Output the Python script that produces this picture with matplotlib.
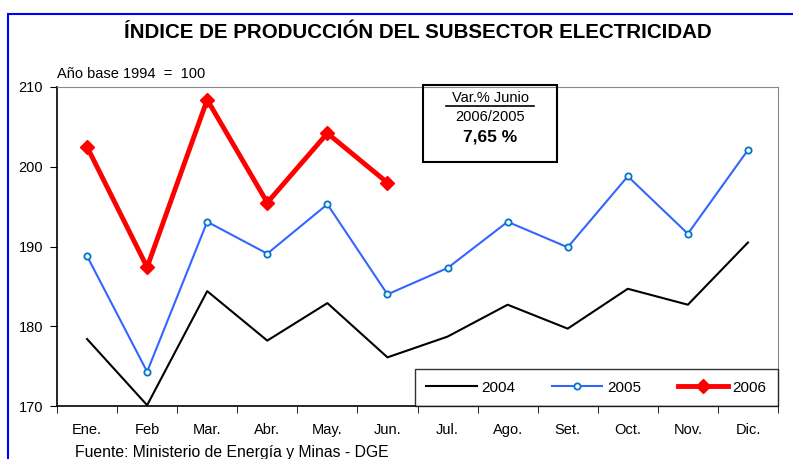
import matplotlib.pyplot as plt
from matplotlib.patches import Rectangle
import numpy as np

plt.rcParams['font.family'] = ['Liberation Sans', 'DejaVu Sans']

meses = ["Ene.", "Feb", "Mar.", "Abr.", "May.", "Jun.", "Jul.", "Ago.", "Set.", "Oct.", "Nov.", "Dic."]
y2004 = [178.4, 170.1, 184.4, 178.2, 182.9, 176.1, 178.7, 182.7, 179.7, 184.7, 182.7, 190.5]
y2005 = [188.8, 174.3, 193.1, 189.1, 195.3, 184.0, 187.3, 193.1, 189.9, 198.8, 191.6, 202.1]
y2006 = [202.5, 187.4, 208.4, 195.5, 204.2, 198.0]

fig = plt.figure(figsize=(7.93, 4.59), dpi=100)
fig.patches.append(Rectangle((8 / 793, -0.1), 1.1, 1.1 - 14 / 459, transform=fig.transFigure,
                             fill=False, edgecolor="#0000ff", linewidth=1.5))

ax = fig.add_axes([57 / 793, 53 / 459, 721 / 793, 319 / 459])
x = np.arange(len(meses))
ax.plot(x, y2004, color="black", linewidth=1.5, label="2004")
ax.plot(x, y2005, color="#3366ff", linewidth=1.5, marker="o", markersize=4.5,
        markerfacecolor="white", markeredgecolor="#0077cc", markeredgewidth=1.3, label="2005")
ax.plot(x[:len(y2006)], y2006, color="#ff0000", linewidth=3.5, marker="D", markersize=7,
        label="2006")

ax.set_xlim(-0.5, 11.5)
ax.set_ylim(170, 210)
ax.set_yticks([170, 180, 190, 200, 210])
ax.set_xticks(x)
ax.set_xticklabels(meses)
ax.set_xticks(np.arange(-0.5, 12, 1), minor=True)
ax.tick_params(axis="x", which="major", length=0, pad=12, labelsize=10.5)
ax.tick_params(axis="x", which="minor", length=5, direction="out")
ax.tick_params(axis="y", length=5, direction="out", labelsize=10.5, pad=5)
for s in ["top", "right"]:
    ax.spines[s].set_color("#888888")
ax.spines["left"].set_linewidth(1.2)
ax.spines["bottom"].set_linewidth(1.2)

leg = ax.legend(loc="lower right", ncol=3, fontsize=11, frameon=True, fancybox=False,
                edgecolor="black", borderaxespad=0, handlelength=3.3, handletextpad=0.3,
                columnspacing=2.4, borderpad=0.75, bbox_to_anchor=(1.0, 0.0))
leg.get_frame().set_linewidth(1.0)

fig.text(418 / 793, 1 - 33 / 459, "ÍNDICE DE PRODUCCIÓN DEL SUBSECTOR ELECTRICIDAD",
         ha="center", va="center", fontsize=14.8, fontweight="bold")
fig.text(57 / 793, 1 - 74 / 459, "Año base 1994  =  100", fontsize=10.5, va="center")
fig.text(75 / 793, 1 - 452 / 459, "Fuente: Ministerio de Energía y Minas - DGE", fontsize=11.3,
         va="center")

fig.patches.append(Rectangle((423 / 793, 1 - 162 / 459), 134 / 793, 77 / 459,
                             transform=fig.transFigure, fill=False, edgecolor="black",
                             linewidth=1.5))
fig.text(490 / 793, 1 - 98 / 459, "Var.% Junio", ha="center", va="center", fontsize=10.5)
fig.add_artist(plt.Line2D([446 / 793, 534 / 793], [1 - 106 / 459, 1 - 106 / 459],
                          color="black", linewidth=1.2))
fig.text(490 / 793, 1 - 117 / 459, "2006/2005", ha="center", va="center", fontsize=10.5)
fig.text(490 / 793, 1 - 137 / 459, "7,65 %", ha="center", va="center", fontsize=12.5,
         fontweight="bold")

fig.savefig("out.png", dpi=100)
